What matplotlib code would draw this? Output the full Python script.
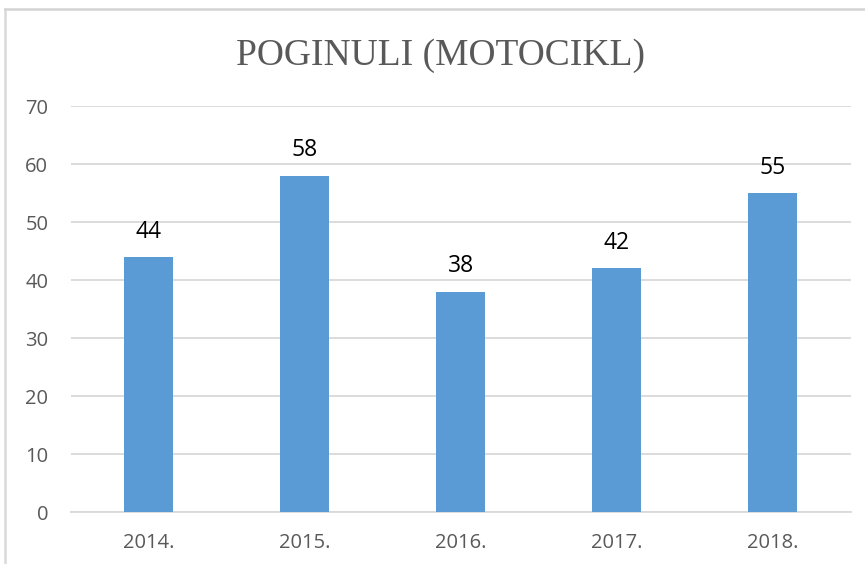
import matplotlib.pyplot as plt
from matplotlib.lines import Line2D

years = ["2014.", "2015.", "2016.", "2017.", "2018."]
values = [44, 58, 38, 42, 55]
y_ticks = [0, 10, 20, 30, 40, 50, 60, 70]

W, H = 865, 564
fig = plt.figure(figsize=(W / 100, H / 100), dpi=100)
ax = fig.add_axes([70.5 / W, 1 - 512 / H, (851 - 70.5) / W, (512 - 106) / H])

x = range(len(years))
ax.bar(x, values, width=0.314, color="#5B9BD5", zorder=3)

# value labels above the bars
for xi, v in zip(x, values):
    ax.text(xi, v + 3.3, str(v), ha="center", va="baseline", fontsize=16.5,
            color="black", family="Open Sans", zorder=4)

ax.set_xlim(-0.5, len(years) - 0.5)
ax.set_ylim(0, 70)
ax.set_yticks(y_ticks)
ax.set_xticks(list(x))
ax.set_xticklabels(years)
ax.grid(axis="y", color="#D9D9D9", linewidth=1.3, zorder=0)
for s in ["top", "right", "left"]:
    ax.spines[s].set_visible(False)
ax.spines["bottom"].set_color("#D9D9D9")
ax.spines["bottom"].set_linewidth(1.3)
ax.tick_params(length=0, labelsize=14.5, labelcolor="#595959")
ax.tick_params(axis="x", pad=15)
ax.tick_params(axis="y", pad=16)
for lbl in ax.get_xticklabels() + ax.get_yticklabels():
    lbl.set_family("Open Sans")

fig.text(441 / W, 1 - 56 / H, "POGINULI (MOTOCIKL)", ha="center", va="center",
         fontsize=27, color="#595959", family="Liberation Serif")

# chart frame (left and top edges visible)
fig.add_artist(Line2D([5 / W, 5 / W], [0, 1 - 9 / H], transform=fig.transFigure,
                      color="#D9D9D9", linewidth=1.8))
fig.add_artist(Line2D([5 / W, 1], [1 - 9 / H, 1 - 9 / H], transform=fig.transFigure,
                      color="#D4D4D4", linewidth=1.8))

fig.savefig("out.png", dpi=100)
